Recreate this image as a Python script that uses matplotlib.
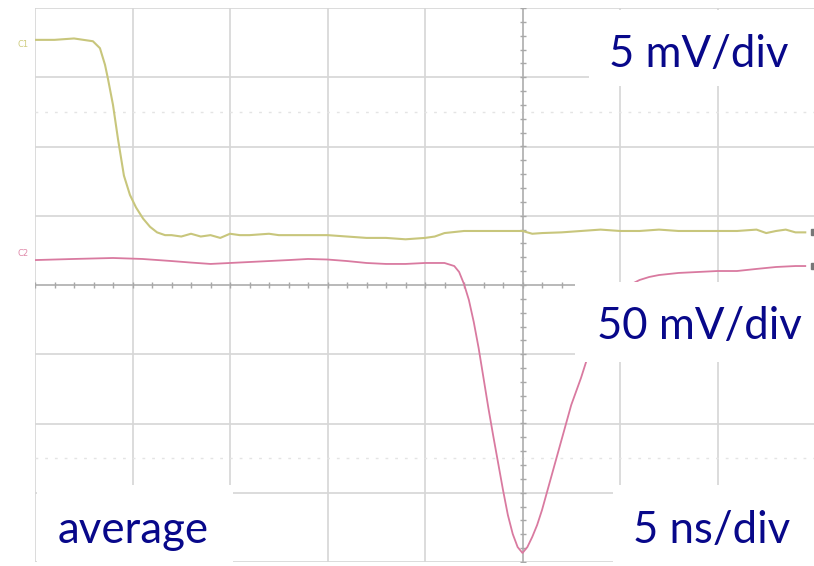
"""
Oscilloscope capture: laser trigger (C1, 5 mV/div) and detector pulse
(C2, 50 mV/div), averaged, 5 ns/div.
"""
import matplotlib
matplotlib.use("Agg")
import matplotlib.pyplot as plt
from matplotlib.patches import Rectangle
import numpy as np

# ── data ──────────────────────────────────────────────────────────────────────
# C1: time in ns relative to trigger, voltage in mV relative to screen centre
c1_t = [-25, -24, -23, -22.03, -21.67, -21.41, -21.26, -21.0, -20.74, -20.44,
        -20.13, -19.82, -19.46, -19.1, -18.74, -18.33, -18, -17.5, -17, -16.5,
        -16, -15.5, -15, -14.5, -14, -13, -12.5, -12, -11, -10, -9, -8, -7, -6,
        -5, -4.5, -4, -3, -2, -1, 0, 0.5, 1, 2, 3, 4, 5, 6, 7, 8, 9, 10, 11, 12,
        12.5, 13, 13.5, 14, 14.5]
c1_mv = [17.7, 17.7, 17.8, 17.6, 17.1, 15.9, 14.9, 13.0, 10.5, 7.9,
         6.5, 5.6, 4.8, 4.2, 3.8, 3.6, 3.6, 3.5, 3.7, 3.5,
         3.6, 3.4, 3.7, 3.6, 3.6, 3.7, 3.6, 3.6, 3.6, 3.6, 3.5, 3.4, 3.4, 3.3,
         3.4, 3.5, 3.75, 3.9, 3.9, 3.9, 3.9, 3.7, 3.75, 3.8, 3.9, 4.0, 3.9, 3.9,
         4.0, 3.9, 3.9, 3.9, 3.9, 4.0, 3.75, 3.9, 4.0, 3.8, 3.8]

# C2: time in ns, voltage in mV
c2_t = [-25, -23, -21, -19.5, -18, -17, -16, -15, -14, -13, -12, -11, -10, -9,
        -8, -7, -6, -5, -4, -3.5, -3.25, -3, -2.75, -2.5, -2.25, -2, -1.75,
        -1.5, -1.25, -1, -0.75, -0.5, -0.25, 0, 0.25, 0.5, 0.75, 1, 1.5, 2,
        2.5, 3, 3.5, 4, 4.5, 5, 5.5, 6, 6.5, 7, 8, 9, 10, 11, 12, 13, 14, 14.5]
c2_mv = [18.0, 18.8, 19.5, 18.8, 17.3, 16.2, 15.2, 15.9, 16.6, 17.3, 18.0, 18.8,
         18.4, 17.3, 15.9, 15.2, 15.2, 15.9, 15.9, 13.7, 9.4, 0.7, -10.8, -26.7,
         -45.5, -67.1, -88.8, -109.0, -128.5, -148.0, -166.1, -179.8, -189.2,
         -193.5, -189.2, -181.9, -173.3, -162.5, -137.2, -111.9, -86.6, -67.1,
         -45.0, -26.0, -14.4, -5.1, 0.0, 3.6, 5.8, 7.2, 8.7, 9.4, 10.1, 10.1,
         11.6, 13.0, 13.7, 13.7]

c1_scale = 5.0    # mV/div
c2_scale = 50.0   # mV/div
t_scale = 5.0     # ns/div

labels = ["5 mV/div", "50 mV/div", "average", "5 ns/div"]

# ── figure ────────────────────────────────────────────────────────────────────
W, H = 814, 566
fig = plt.figure(figsize=(W / 100, H / 100), dpi=100)
fig.patch.set_facecolor("white")

# screen area: left edge at px 35, top px 8, bottom px 562, cut off on the right
ax = fig.add_axes([35 / W, (H - 562) / H, (W - 35) / W, 554 / H])
ax.set_xlim(-5 * t_scale, (W - 35) / 97.5 * t_scale - 5 * t_scale)
ax.set_ylim(-4, 4)
for s in ax.spines.values():
    s.set_visible(False)
ax.set_xticks([])
ax.set_yticks([])

grid_c = "#d6d6d6"
for x in np.arange(-25, 15, t_scale):
    ax.axvline(x, color=grid_c, lw=1.2, zorder=1)
for y in range(-4, 5):
    ax.axhline(y, color=grid_c, lw=1.2, zorder=1)
for y in (-2.5, 2.5):
    ax.axhline(y, color="#e4e4e4", lw=1.0, ls=(0, (2, 5)), zorder=1)

# centre cross-hair with small ticks
ax.axhline(0, color="#b4b4b4", lw=1.2, zorder=1.5)
ax.axvline(0, color="#b4b4b4", lw=1.2, zorder=1.5)
tx = np.arange(-25, 15.01, t_scale / 5)
ax.plot(tx, np.zeros_like(tx), ls="none", marker="|", ms=5, mew=1.0,
        color="#a8a8a8", zorder=1.5)
ty = np.arange(-4, 4.01, 0.2)
ax.plot(np.zeros_like(ty), ty, ls="none", marker="_", ms=5, mew=1.0,
        color="#a8a8a8", zorder=1.5)

# traces
c1_div = np.array(c1_mv) / c1_scale
c2_div = np.array(c2_mv) / c2_scale
ax.plot(c1_t, c1_div, color="#c8c67c", lw=1.5, zorder=3)
ax.plot(c2_t, c2_div, color="#d97aa0", lw=1.3, zorder=3)

# end-of-trace markers on the right
ax.plot([c1_t[-1] + 0.45], [c1_div[-1]], marker="s", ms=4, color="#777777",
        clip_on=False, zorder=4)
ax.plot([c2_t[-1] + 0.45], [c2_div[-1]], marker="s", ms=4, color="#777777",
        clip_on=False, zorder=4)

# channel tags on the left
fig.text(17 / W, (H - 47) / H, "C1", fontsize=6, color="#cfcc80")
fig.text(17 / W, (H - 256) / H, "C2", fontsize=6, color="#e08aaa")

# white label boxes (x0, y0, x1, y1 in px, text x, baseline y)
boxes = [
    (589, 10, 814, 86, 609, 67),
    (575, 282, 814, 362, 597, 339),
    (37, 485, 233, 562, 58, 543),
    (613, 485, 814, 562, 633, 543),
]
for (x0, y0, x1, y1, tx0, by), lab in zip(boxes, labels):
    fig.add_artist(Rectangle((x0 / W, (H - y1) / H), (x1 - x0) / W, (y1 - y0) / H,
                             transform=fig.transFigure, facecolor="white",
                             edgecolor="none", zorder=10))
    fig.text(tx0 / W, (H - by) / H, lab, fontsize=31.5, family="Lato",
             color="#08088a", ha="left", va="baseline", zorder=11)

fig.savefig("out.png", dpi=100)
